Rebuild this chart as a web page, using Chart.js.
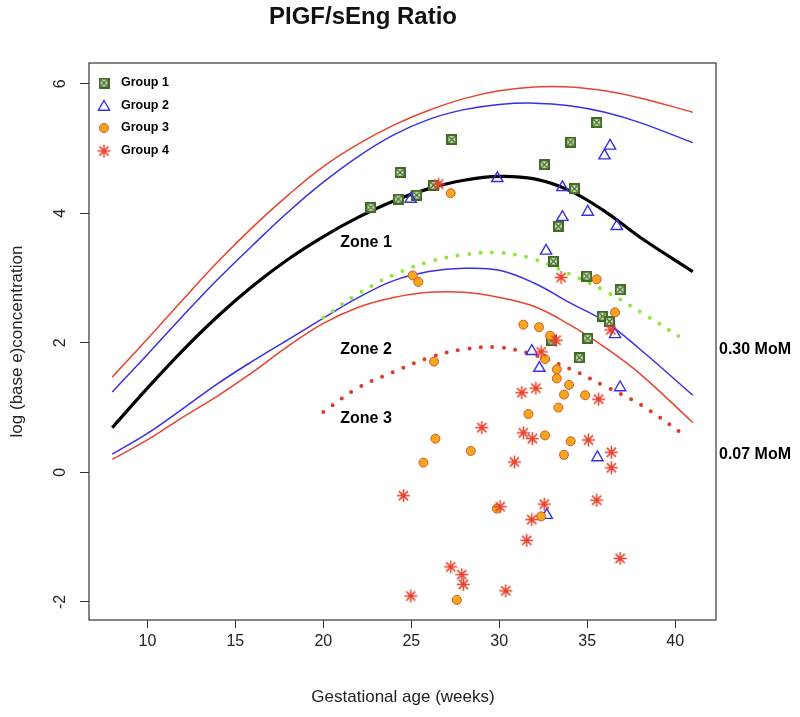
<!DOCTYPE html>
<html lang="en">
<head>
<meta charset="UTF-8">
<title>PIGF/sEng Ratio</title>
<script src="https://cdn.jsdelivr.net/npm/chart.js"></script>
<style>
  html, body { margin: 0; padding: 0; background: #fff; }
</style>
</head>
<body>
<canvas id="ratioChart" width="800" height="717"></canvas>
<script>
// reference curves (weeks / log concentration)
const curveWeeks = [8, 10, 12, 14, 16, 18, 20, 22, 24, 26, 28, 30, 32, 34, 36, 38, 41];
const upperRed   = [1.47, 2.06, 2.66, 3.25, 3.79, 4.28, 4.72, 5.07, 5.36, 5.59, 5.77, 5.89, 5.95, 5.95, 5.89, 5.78, 5.56];
const upperBlue  = [1.24, 1.82, 2.41, 2.98, 3.51, 4.02, 4.48, 4.88, 5.21, 5.45, 5.60, 5.68, 5.70, 5.66, 5.56, 5.40, 5.09];
const median     = [0.69, 1.30, 1.88, 2.41, 2.88, 3.29, 3.64, 3.94, 4.19, 4.38, 4.51, 4.57, 4.53, 4.35, 4.03, 3.63, 3.10];
const lowerBlue  = [0.28, 0.60, 0.98, 1.37, 1.72, 2.05, 2.38, 2.70, 2.96, 3.10, 3.15, 3.12, 2.92, 2.62, 2.33, 1.90, 1.19];
const lowerRed   = [0.20, 0.50, 0.85, 1.18, 1.55, 1.95, 2.30, 2.55, 2.70, 2.78, 2.78, 2.70, 2.56, 2.28, 1.93, 1.52, 0.77];

// MoM cut-off curves
const momWeeks = [20, 22, 24, 26, 28, 30, 32, 34, 36, 38, 40.5];
const mom030   = [2.39, 2.76, 3.05, 3.25, 3.36, 3.39, 3.29, 3.06, 2.80, 2.48, 2.05];
const mom007   = [0.93, 1.31, 1.55, 1.77, 1.90, 1.93, 1.81, 1.60, 1.33, 1.05, 0.58];

// patients
const g1Weeks  = [22.70, 24.36, 24.26, 25.31, 26.26, 27.30, 35.54, 34.06, 32.56, 34.27, 33.36, 33.08, 34.97, 36.87, 35.86, 36.26, 35.03, 34.55, 32.98];
const g1Values = [4.09, 4.63, 4.22, 4.28, 4.43, 5.14, 5.40, 5.10, 4.75, 4.38, 3.80, 3.26, 3.03, 2.82, 2.41, 2.33, 2.07, 1.77, 2.03];

const g2Weeks  = [24.97, 29.89, 36.30, 35.98, 33.59, 35.03, 33.59, 36.68, 32.66, 36.58, 31.85, 32.28, 36.87, 35.58, 32.70];
const g2Values = [4.22, 4.54, 5.04, 4.89, 4.40, 4.02, 3.94, 3.80, 3.42, 2.13, 1.87, 1.61, 1.31, 0.23, -0.66];

const g3Weeks  = [27.24, 25.08, 25.40, 35.54, 26.29, 26.37, 28.38, 25.69, 36.58, 31.37, 32.26, 32.89, 32.60, 33.27, 33.27, 33.97, 33.68, 34.88, 33.36, 31.66, 32.60, 34.06, 33.68, 27.59, 29.86, 32.38];
const g3Values = [4.31, 3.04, 2.94, 2.98, 1.71, 0.52, 0.33, 0.15, 2.47, 2.28, 2.24, 2.11, 1.75, 1.59, 1.45, 1.35, 1.20, 1.19, 1.00, 0.90, 0.57, 0.48, 0.27, -1.97, -0.56, -0.68];

const g4Weeks  = [26.56, 33.51, 36.34, 33.23, 32.38, 31.28, 32.08, 35.65, 29.01, 31.37, 31.88, 35.07, 30.86, 36.37, 36.37, 24.55, 27.24, 27.87, 27.96, 24.97, 30.05, 32.56, 31.85, 35.54, 31.56, 36.87, 30.37];
const g4Values = [4.45, 3.01, 2.20, 2.04, 1.86, 1.23, 1.30, 1.13, 0.69, 0.61, 0.52, 0.50, 0.16, 0.31, 0.07, -0.36, -1.46, -1.58, -1.73, -1.91, -0.53, -0.49, -0.73, -0.43, -1.05, -1.33, -1.83];

const xTicks = [10, 15, 20, 25, 30, 35, 40];
const yTicks = [-2, 0, 2, 4, 6];

const FONT = '"Liberation Sans", Arial, Helvetica, sans-serif';
const RED = '#e8432d';
const BLUE = '#3a2fe6';

function pts(xs, ys) {
    return xs.map((x, i) => ({ x: x, y: ys[i] }));
}

// marker images
function squareX() {
    const c = document.createElement('canvas');
    c.width = 11; c.height = 11;
    const g = c.getContext('2d');
    g.fillStyle = '#dfe7d3';
    g.fillRect(0, 0, 11, 11);
    g.strokeStyle = '#3f6c22';
    g.lineWidth = 2.2;
    g.strokeRect(1.1, 1.1, 8.8, 8.8);
    g.lineWidth = 1.2;
    g.beginPath();
    g.moveTo(2.5, 2.5); g.lineTo(8.5, 8.5);
    g.moveTo(8.5, 2.5); g.lineTo(2.5, 8.5);
    g.stroke();
    return c;
}
function asterisk() {
    const c = document.createElement('canvas');
    c.width = 15; c.height = 15;
    const g = c.getContext('2d');
    g.strokeStyle = RED;
    g.lineWidth = 1.5;
    g.beginPath();
    for (let k = 0; k < 4; k++) {
        const a = k * Math.PI / 4;
        g.moveTo(7.5 - Math.cos(a) * 6.5, 7.5 - Math.sin(a) * 6.5);
        g.lineTo(7.5 + Math.cos(a) * 6.5, 7.5 + Math.sin(a) * 6.5);
    }
    g.stroke();
    return c;
}
const sqImg = squareX();
const starImg = asterisk();

const curveStyle = { showLine: true, pointRadius: 0, fill: false, tension: 0.4 };

const overlay = {
    id: 'overlay',
    afterDraw(chart) {
        const ctx = chart.ctx;
        const a = chart.chartArea;
        const ys = chart.scales.y;
        ctx.save();
        // frame
        ctx.strokeStyle = '#333';
        ctx.lineWidth = 1.2;
        ctx.strokeRect(a.left, a.top, a.right - a.left, a.bottom - a.top);

        ctx.fillStyle = '#111';
        ctx.textAlign = 'center';
        ctx.textBaseline = 'middle';
        ctx.font = 'bold 24px ' + FONT;
        ctx.fillText('PIGF/sEng Ratio', 363, 17);

        ctx.fillStyle = '#222';
        ctx.font = '17px ' + FONT;
        ctx.fillText('Gestational age (weeks)', 403, 697);

        ctx.save();
        ctx.translate(17, (a.top + a.bottom) / 2);
        ctx.rotate(-Math.PI / 2);
        ctx.fillText('log (base e)concentration', 0, 0);
        ctx.restore();

        // y tick labels, rotated like the original
        ctx.font = '16px ' + FONT;
        yTicks.forEach(v => {
            ctx.save();
            ctx.translate(61, ys.getPixelForValue(v));
            ctx.rotate(-Math.PI / 2);
            ctx.fillText(String(v), 0, 0);
            ctx.restore();
        });

        // zone and MoM labels
        ctx.fillStyle = '#000';
        ctx.font = 'bold 16px ' + FONT;
        ctx.fillText('Zone 1', 366, 243);
        ctx.fillText('Zone 2', 366, 350);
        ctx.fillText('Zone 3', 366, 419);
        ctx.textAlign = 'left';
        ctx.fillText('0.30 MoM', 719, 350);
        ctx.fillText('0.07 MoM', 719, 455);

        // legend
        const lx = 104, rows = [83, 106, 128, 151];
        const names = ['Group 1', 'Group 2', 'Group 3', 'Group 4'];
        ctx.drawImage(sqImg, lx - 5.5, rows[0] - 5.5);
        ctx.beginPath();
        const r = 6.5;
        for (let k = 0; k < 3; k++) {
            const ang = k * 2 * Math.PI / 3;
            const px = lx + Math.sin(ang) * r, py = rows[1] + 1 - Math.cos(ang) * r;
            if (k === 0) ctx.moveTo(px, py); else ctx.lineTo(px, py);
        }
        ctx.closePath();
        ctx.strokeStyle = BLUE;
        ctx.lineWidth = 1.4;
        ctx.stroke();
        ctx.beginPath();
        ctx.arc(lx, rows[2], 4.5, 0, Math.PI * 2);
        ctx.fillStyle = '#f6a81c';
        ctx.fill();
        ctx.strokeStyle = '#dc532b';
        ctx.lineWidth = 1;
        ctx.stroke();
        ctx.drawImage(starImg, lx - 7.5, rows[3] - 7.5);

        ctx.fillStyle = '#000';
        ctx.font = 'bold 12.5px ' + FONT;
        names.forEach((n, i) => ctx.fillText(n, 121, rows[i]));
        ctx.restore();
    }
};

new Chart(document.getElementById('ratioChart'), {
    type: 'scatter',
    data: {
        datasets: [
            { label: 'Group 4', data: pts(g4Weeks, g4Values), pointStyle: starImg },
            { label: 'Group 3', data: pts(g3Weeks, g3Values), pointStyle: 'circle', pointRadius: 4.5,
              backgroundColor: '#f6a81c', borderColor: '#dc532b', borderWidth: 1 },
            { label: 'Group 2', data: pts(g2Weeks, g2Values), pointStyle: 'triangle', pointRadius: 6.5,
              backgroundColor: 'rgba(0,0,0,0)', borderColor: BLUE, borderWidth: 1.4 },
            { label: 'Group 1', data: pts(g1Weeks, g1Values), pointStyle: sqImg },
            Object.assign({ data: pts(momWeeks, mom030), borderColor: '#8fe83a', borderWidth: 4,
              borderDash: [0, 11.5], borderCapStyle: 'round' }, curveStyle),
            Object.assign({ data: pts(momWeeks, mom007), borderColor: '#e2392a', borderWidth: 4,
              borderDash: [0, 11.5], borderCapStyle: 'round' }, curveStyle),
            Object.assign({ data: pts(curveWeeks, median), borderColor: '#000', borderWidth: 3.2 }, curveStyle),
            Object.assign({ data: pts(curveWeeks, upperBlue), borderColor: BLUE, borderWidth: 1.5 }, curveStyle),
            Object.assign({ data: pts(curveWeeks, lowerBlue), borderColor: BLUE, borderWidth: 1.5 }, curveStyle),
            Object.assign({ data: pts(curveWeeks, upperRed), borderColor: RED, borderWidth: 1.5 }, curveStyle),
            Object.assign({ data: pts(curveWeeks, lowerRed), borderColor: RED, borderWidth: 1.5 }, curveStyle)
        ]
    },
    options: {
        responsive: false,
        animation: false,
        devicePixelRatio: 1,
        layout: { padding: { top: 63, right: 84, left: 0, bottom: 0 } },
        plugins: { legend: { display: false }, tooltip: { enabled: false } },
        scales: {
            x: {
                min: 6.68, max: 42.32,
                afterFit: s => { s.height = 97; },
                afterBuildTicks: s => { s.ticks = xTicks.map(v => ({ value: v })); },
                ticks: { font: { family: FONT, size: 16 }, color: '#222', padding: 4, maxRotation: 0 },
                grid: { drawOnChartArea: false, tickLength: 8, color: '#333' },
                border: { display: false }
            },
            y: {
                min: -2.28, max: 6.32,
                afterFit: s => { s.width = 89; },
                afterBuildTicks: s => { s.ticks = yTicks.map(v => ({ value: v })); },
                ticks: { color: 'rgba(0,0,0,0)' },
                grid: { drawOnChartArea: false, tickLength: 9, color: '#333' },
                border: { display: false }
            }
        }
    },
    plugins: [overlay]
});
</script>
</body>
</html>
